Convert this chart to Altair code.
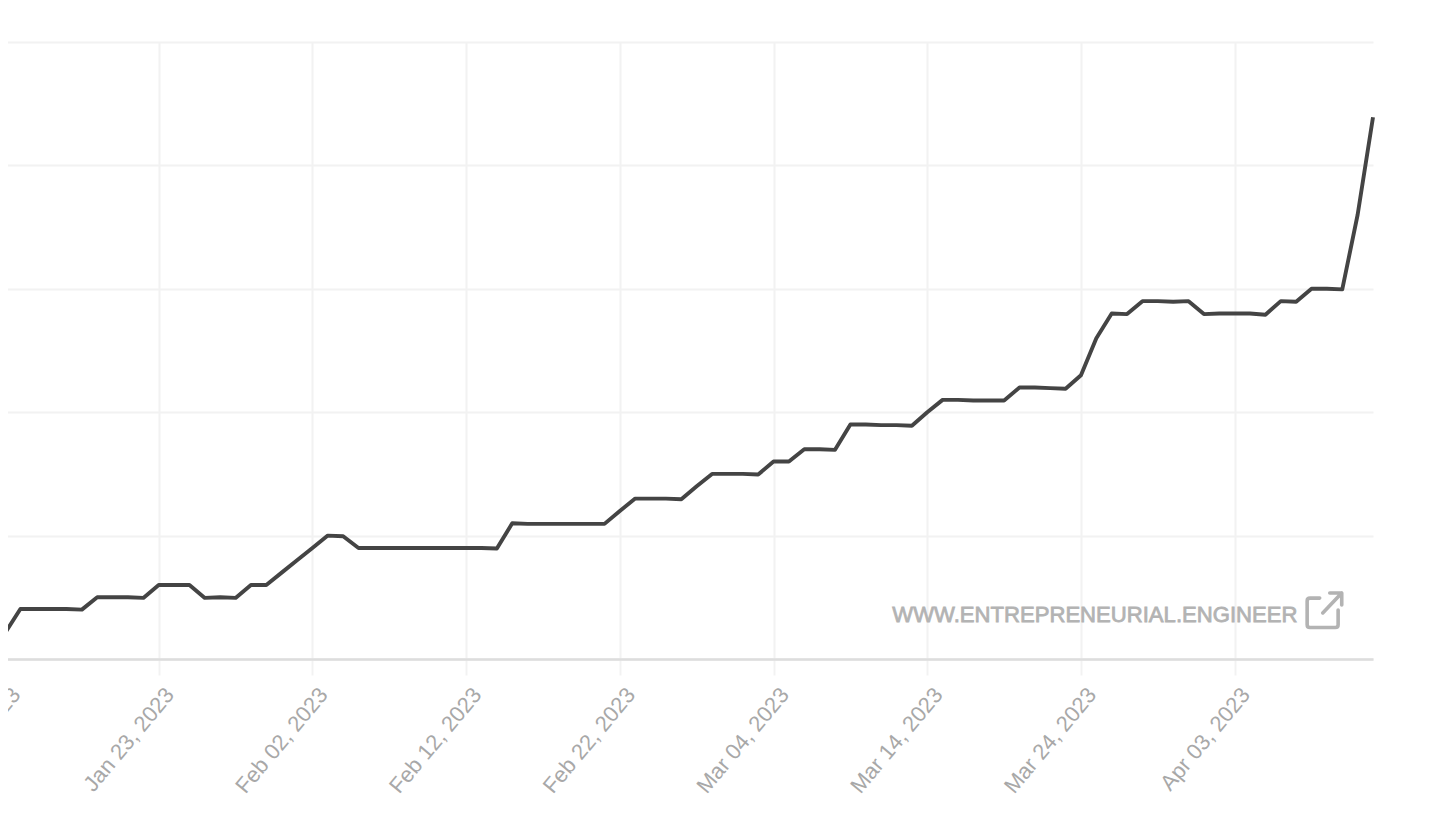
import altair as alt
import pandas as pd

jan = [0.21, 0.405, 0.405, 0.405, 0.405, 0.40, 0.5, 0.5, 0.5, 0.495, 0.6, 0.6, 0.6, 0.495, 0.5, 0.495, 0.6, 0.6, 0.7]
feb = [0.8, 0.9, 1.0, 0.995, 0.9, 0.9, 0.9, 0.9, 0.9, 0.9, 0.9, 0.9, 0.9, 0.895, 1.1, 1.095, 1.095, 1.095, 1.095, 1.095,
       1.095, 1.2, 1.3, 1.3, 1.3, 1.295, 1.4, 1.5]
mar = [1.5, 1.5, 1.495, 1.6, 1.6, 1.7, 1.7, 1.695, 1.9, 1.9, 1.895, 1.895, 1.89, 2.0, 2.1, 2.1, 2.095, 2.095, 2.095, 2.2,
       2.2, 2.195, 2.19, 2.3, 2.6, 2.8, 2.795, 2.9, 2.9, 2.895, 2.9]
apr = [2.795, 2.8, 2.8, 2.8, 2.79, 2.9, 2.895, 3.0, 3.0, 2.995, 3.6, 4.39]
values = jan + feb + mar + apr
dates = [d.strftime("%Y-%m-%dT00:00:00") for d in pd.date_range("2023-01-13", periods=len(values))]
tick_dates = ["2023-01-13T00:00:00", "2023-01-23T00:00:00", "2023-02-02T00:00:00", "2023-02-12T00:00:00",
              "2023-02-22T00:00:00", "2023-03-04T00:00:00", "2023-03-14T00:00:00", "2023-03-24T00:00:00",
              "2023-04-03T00:00:00"]
y_ticks = [0, 1, 2, 3, 4, 5]
x_domain = ["2023-01-13T00:00:00", "2023-04-12T00:00:00"]
brand = "WWW.ENTREPRENEURIAL.ENGINEER"
brand_date = "2023-04-07T02:00:00"
brand_value = 0.30
icon_date = "2023-04-08T19:00:00"
icon_value = 0.389
icon_path = ("M-0.21,-0.68 L-0.72,-0.68 Q-0.87,-0.68 -0.87,-0.53 L-0.87,0.72 Q-0.87,0.87 -0.72,0.87 "
             "L0.61,0.87 Q0.76,0.87 0.76,0.72 L0.76,-0.05 M-0.05,0.1 L0.95,-0.95 M0.32,-0.95 L0.95,-0.95 L0.95,-0.32")

df = pd.DataFrame({"date": dates, "value": values})
x_scale = alt.Scale(domain=x_domain)
y_scale = alt.Scale(domain=[0, 5])

x_axis = alt.Axis(values=tick_dates, format="%b %d, %Y", labelAngle=-50, labelAlign="right", labelBaseline="top",
                  labelFont="Liberation Sans", labelFontSize=22, labelColor="#a8a8a8", labelPadding=9, labelOffset=3,
                  labelOverlap=False, labelBound=False, labelFlush=False, tickSize=16, tickColor="#f2f2f2", tickWidth=2,
                  domainColor="#dddddd", domainWidth=2.5, gridColor="#f2f2f2", gridWidth=2, title=None)
y_axis = alt.Axis(values=y_ticks, labels=False, ticks=False, domain=False, gridColor="#f2f2f2", gridWidth=2, title=None)

line = alt.Chart(df).mark_line(color="#444444", strokeWidth=3.9, strokeCap="butt", strokeJoin="round").encode(
    x=alt.X("date:T", scale=x_scale, axis=x_axis),
    y=alt.Y("value:Q", scale=y_scale, axis=y_axis),
)

label = alt.Chart(pd.DataFrame({"date": [brand_date], "value": [brand_value], "t": [brand]})).mark_text(
    font="Liberation Sans", fontSize=22.1, align="right", baseline="alphabetic", color="#b3b3b3",
    stroke="#b3b3b3", strokeWidth=0.8,
).encode(x=alt.X("date:T", scale=x_scale), y=alt.Y("value:Q", scale=y_scale), text="t:N")

icon = alt.Chart(pd.DataFrame({"date": [icon_date], "value": [icon_value]})).mark_point(
    shape=icon_path, size=1444, filled=False, stroke="#b3b3b3", strokeWidth=3.6, opacity=1,
    strokeCap="round", strokeJoin="round",
).encode(x=alt.X("date:T", scale=x_scale), y=alt.Y("value:Q", scale=y_scale))

chart = (line + label + icon).properties(
    width=1368, height=617,
    padding={"left": -3, "top": 34, "right": 50, "bottom": 155},
    autosize=alt.AutoSizeParams(type="none", contains="content"),
).configure_view(stroke=None)

chart.save("out.html", embed_options={"renderer": "svg", "actions": False})
